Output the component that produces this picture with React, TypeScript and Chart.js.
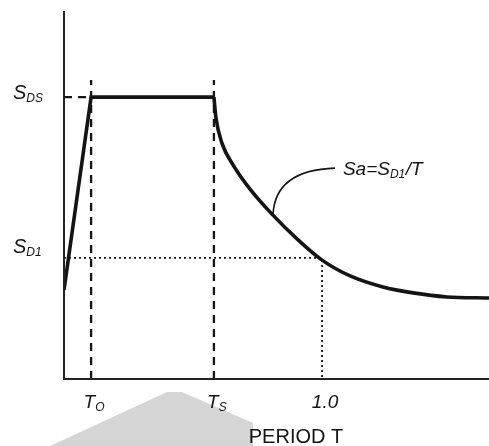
import React, { useEffect, useRef } from "react";
import { Chart, registerables } from "chart.js";

Chart.register(...registerables);

const W = 489;
const H = 446;

// Spectrum curve (period T, spectral acceleration Sa)
const rampT = [0, 0.105, 0.581];
const rampSa = [0.242, 0.766, 0.766];
const decayT = [0.581, 0.589, 0.612, 0.655, 0.721, 0.806, 0.907, 1.0, 1.109, 1.236, 1.353, 1.484, 1.647];
const decaySa = [0.766, 0.709, 0.641, 0.582, 0.516, 0.448, 0.378, 0.323, 0.28, 0.25, 0.234, 0.223, 0.22];

// Reference values
const T0 = 0.105;
const TS = 0.581;
const T1 = 1.0;
const SDS = 0.766;
const SD1 = 0.329;
const GUIDE_TOP = 0.8125;
const X_MAX = 1.647;
const Y_MAX = 1.0;

// Tick labels
const xTickValues = [T0, TS, T1];
const xTickMain = ["T", "T", "1.0"];
const xTickSub = ["O", "S", ""];
const yLabelValues = [SDS, SD1];
const yLabelMain = ["S", "S"];
const yLabelSub = ["DS", "D1"];
const xTitle = "PERIOD T";

// Annotation: leader from label to a point on the curve
const noteAnchor = { t: 0.81, sa: 0.446 };
const noteStart = { t: 1.05, sa: 0.573 };
const noteParts = [
  { text: "Sa=", sub: false },
  { text: "S", sub: false },
  { text: "D1", sub: true },
  { text: "/T", sub: false },
];

const INK = "#141414";
const MAIN_FONT = "italic 20px 'Liberation Sans', Arial, sans-serif";
const TICK_FONT = "italic 19px 'Liberation Sans', Arial, sans-serif";
const SUB_FONT = "italic 12px 'Liberation Sans', Arial, sans-serif";

function drawSub(
  ctx: CanvasRenderingContext2D,
  main: string,
  sub: string,
  x: number,
  y: number,
  mainFont: string,
  center: boolean
) {
  ctx.font = mainFont;
  const mw = ctx.measureText(main).width;
  ctx.font = SUB_FONT;
  const sw = sub ? ctx.measureText(sub).width : 0;
  const total = mw + sw;
  const sx = center ? x - total / 2 : x;
  ctx.textAlign = "left";
  ctx.textBaseline = "alphabetic";
  ctx.fillStyle = INK;
  ctx.font = mainFont;
  ctx.fillText(main, sx, y);
  if (sub) {
    ctx.font = SUB_FONT;
    ctx.fillText(sub, sx + mw, y + 3);
  }
}

const decorPlugin = {
  id: "decor",
  beforeDraw(chart: any) {
    const ctx = chart.ctx as CanvasRenderingContext2D;
    ctx.save();
    ctx.fillStyle = "#fff";
    ctx.fillRect(0, 0, chart.width, chart.height);
    // faint grey watermark shape at the bottom
    ctx.fillStyle = "#d5d5d5";
    ctx.beginPath();
    ctx.moveTo(167, 392);
    ctx.lineTo(182, 392);
    ctx.lineTo(253, 423);
    ctx.lineTo(253, 446);
    ctx.lineTo(50, 446);
    ctx.closePath();
    ctx.fill();
    ctx.restore();
  },
  afterDatasetsDraw(chart: any) {
    const ctx = chart.ctx as CanvasRenderingContext2D;
    const xs = chart.scales.x;
    const ys = chart.scales.y;
    const area = chart.chartArea;
    ctx.save();

    // axes
    ctx.strokeStyle = "#222";
    ctx.lineWidth = 2;
    ctx.beginPath();
    ctx.moveTo(area.left, area.top);
    ctx.lineTo(area.left, area.bottom);
    ctx.lineTo(area.right, area.bottom);
    ctx.stroke();

    // y labels
    yLabelValues.forEach((v, i) => {
      const py = ys.getPixelForValue(v);
      const dy = i === 0 ? 2 : -5;
      drawSub(ctx, yLabelMain[i], yLabelSub[i], 13, py + dy, MAIN_FONT, false);
    });

    // x tick labels
    xTickValues.forEach((v, i) => {
      const px = xs.getPixelForValue(v);
      drawSub(ctx, xTickMain[i], xTickSub[i], px + 3, area.bottom + 29, TICK_FONT, true);
    });

    // axis title
    ctx.font = "20px 'Liberation Sans', Arial, sans-serif";
    ctx.fillStyle = INK;
    ctx.textAlign = "center";
    ctx.textBaseline = "alphabetic";
    ctx.fillText(xTitle, 296, area.bottom + 64);

    // leader curve
    const ax = xs.getPixelForValue(noteAnchor.t);
    const ay = ys.getPixelForValue(noteAnchor.sa);
    const bx = xs.getPixelForValue(noteStart.t);
    const by = ys.getPixelForValue(noteStart.sa);
    ctx.strokeStyle = INK;
    ctx.lineWidth = 1.6;
    ctx.beginPath();
    ctx.moveTo(bx, by);
    ctx.quadraticCurveTo(ax + 2, by + 2, ax, ay);
    ctx.stroke();

    // annotation text
    let tx = bx + 8;
    const ty = by + 7;
    ctx.textAlign = "left";
    ctx.fillStyle = INK;
    noteParts.forEach((p) => {
      ctx.font = p.sub ? SUB_FONT : "italic 19px 'Liberation Sans', Arial, sans-serif";
      ctx.fillText(p.text, tx, p.sub ? ty + 3 : ty);
      tx += ctx.measureText(p.text).width + (p.sub ? 0.5 : 0);
    });

    ctx.restore();
  },
};

function pts(t: number[], s: number[]) {
  return t.map((v, i) => ({ x: v, y: s[i] }));
}

export default function App() {
  const ref = useRef<HTMLCanvasElement | null>(null);

  useEffect(() => {
    if (!ref.current) return;
    const base = { showLine: true, pointRadius: 0, fill: false, tension: 0 };
    const chart = new Chart(ref.current, {
      type: "scatter",
      data: {
        datasets: [
          {
            ...base,
            data: pts([T0, T0], [0, GUIDE_TOP]),
            borderColor: INK,
            borderWidth: 2.3,
            borderDash: [8, 6],
          },
          {
            ...base,
            data: pts([TS, TS], [0, GUIDE_TOP]),
            borderColor: INK,
            borderWidth: 2.3,
            borderDash: [8, 6],
          },
          {
            ...base,
            data: pts([0, T0], [SDS, SDS]),
            borderColor: INK,
            borderWidth: 2.3,
            borderDash: [8, 6],
          },
          {
            ...base,
            data: pts([0, T1, T1], [SD1, SD1, 0]),
            borderColor: INK,
            borderWidth: 1.8,
            borderDash: [2, 3],
          },
          {
            ...base,
            data: pts(rampT, rampSa),
            borderColor: INK,
            borderWidth: 3.6,
            borderJoinStyle: "miter",
          },
          {
            ...base,
            data: pts(decayT, decaySa),
            borderColor: INK,
            borderWidth: 3.6,
            cubicInterpolationMode: "monotone",
          },
        ] as any,
      },
      options: {
        animation: false,
        responsive: false,
        devicePixelRatio: 1,
        layout: { padding: { left: 64, top: 11, right: 0, bottom: 67 } },
        plugins: { legend: { display: false }, tooltip: { enabled: false } },
        events: [],
        scales: {
          x: { type: "linear", min: 0, max: X_MAX, display: false },
          y: { type: "linear", min: 0, max: Y_MAX, display: false },
        },
      },
      plugins: [decorPlugin],
    });
    return () => chart.destroy();
  }, []);

  return (
    <div style={{ position: "absolute", left: 0, top: 0, width: W, height: H, background: "#fff" }}>
      <canvas ref={ref} width={W} height={H} style={{ display: "block", width: W, height: H }} />
    </div>
  );
}
